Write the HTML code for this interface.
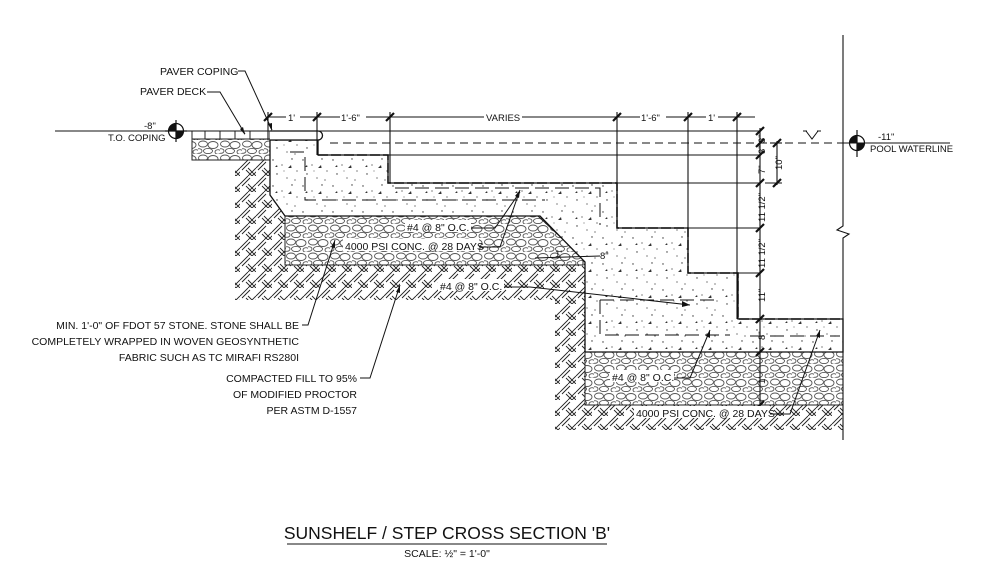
<!DOCTYPE html>
<html><head><meta charset="utf-8"><style>
html,body{margin:0;padding:0;background:#fff;width:986px;height:578px;overflow:hidden}
svg{display:block}
text{font-family:"Liberation Sans",sans-serif;fill:#111}
</style></head><body>
<svg width="986" height="578" viewBox="0 0 986 578" xmlns="http://www.w3.org/2000/svg">
<defs>
<pattern id="earth" width="16" height="16" patternUnits="userSpaceOnUse">
<rect width="16" height="16" fill="#fff"/>
<path d="M0 8 L8 0 M2 10 L10 2 M8 16 L16 8 M10 18 L18 10 M8 8 L16 16 M6 10 L12 16" stroke="#222" stroke-width="0.9" fill="none"/>
</pattern>
<pattern id="stone" width="22" height="14" patternUnits="userSpaceOnUse">
<rect width="22" height="14" fill="#fff"/>
<ellipse cx="5" cy="4" rx="4.5" ry="3" fill="none" stroke="#555" stroke-width="0.9"/>
<ellipse cx="15" cy="5" rx="5" ry="3.5" fill="none" stroke="#555" stroke-width="0.9"/>
<ellipse cx="10" cy="11" rx="4.5" ry="2.6" fill="none" stroke="#555" stroke-width="0.9"/>
<ellipse cx="20" cy="12" rx="3" ry="2.3" fill="none" stroke="#555" stroke-width="0.9"/>
<ellipse cx="1" cy="11" rx="3" ry="2.3" fill="none" stroke="#555" stroke-width="0.9"/>
</pattern>
<pattern id="conc" width="30" height="26" patternUnits="userSpaceOnUse">
<rect width="30" height="26" fill="#fff"/>
<g fill="#333"><circle cx="3" cy="4" r=".7"/><circle cx="12" cy="9" r=".6"/><circle cx="22" cy="3" r=".7"/><circle cx="27" cy="15" r=".6"/><circle cx="7" cy="18" r=".7"/><circle cx="17" cy="22" r=".6"/><circle cx="25" cy="24" r=".6"/><circle cx="14" cy="15" r=".5"/>
<path d="M18 12 l3 -3 l0.6 3 z M5 11 l2 -2 l.5 2 z"/></g>
</pattern>
</defs>

<!-- earth -->
<polygon points="235,160 272,160 272,200 540,216 585,262 585,352 843,352 843,430 555,430 555,300 235,300" fill="url(#earth)"/>
<!-- stone 1 -->
<polygon points="285,216 538,216 583,258 583,265 285,265" fill="url(#stone)" stroke="#222"/>
<!-- stone 2 -->
<rect x="585" y="352" width="258" height="53" fill="url(#stone)" stroke="#222"/>
<!-- paver deck gravel -->
<rect x="192" y="139" width="78" height="21" fill="url(#stone)" stroke="#222"/>
<rect x="192" y="131" width="78" height="8" fill="#fff" stroke="#222"/>
<path d="M205 131v8M220 131v8M235 131v8M250 131v8" stroke="#222"/>
<!-- concrete -->
<polygon points="270,140 318,140 318,155 388,155 388,183 617,183 617,228 688,228 688,273 738,273 738,319 843,319 843,352 585,352 585,262 540,216 285,216 270,195" fill="url(#conc)" stroke="#111" stroke-width="1.3"/>
<path d="M318,155 H388 V183 H617 V228 H688 V273 H738 V319 H843" stroke="#111" stroke-width="1.4" stroke-dasharray="10 3" fill="none"/>
<!-- rebar -->
<g stroke="#111" stroke-width="1" fill="none" stroke-dasharray="14 6">
<path d="M290 152 H305 V200 H545"/><path d="M395 188 H600 V225"/>
<path d="M600 300 V335 H730 M600 300 H720"/><path d="M750 336 H840"/>
</g>
<!-- coping -->
<path d="M270 131 H318 a4.5 4.5 0 0 1 0 9 H270" fill="#fff" stroke="#111" stroke-width="1.3"/>
<!-- reference lines -->
<g stroke="#111" stroke-width="1.1" fill="none">
<line x1="55" y1="131" x2="760" y2="131"/>
<line x1="318" y1="155" x2="760" y2="155"/>
<line x1="388" y1="183" x2="760" y2="183"/>
<line x1="617" y1="228" x2="760" y2="228"/>
<line x1="688" y1="273" x2="760" y2="273"/>
<line x1="738" y1="319" x2="760" y2="319"/>
<line x1="330" y1="143" x2="843" y2="143" stroke-dasharray="8 5"/>
<line x1="843" y1="143" x2="950" y2="143"/>
<line x1="268" y1="117" x2="755" y2="117"/>
<line x1="268" y1="112" x2="268" y2="140"/>
<line x1="317" y1="112" x2="317" y2="155"/>
<line x1="390" y1="112" x2="390" y2="183"/>
<line x1="617" y1="112" x2="617" y2="228"/>
<line x1="688" y1="112" x2="688" y2="273"/>
<line x1="737" y1="112" x2="737" y2="319"/>
<line x1="760" y1="128" x2="760" y2="405"/>
<line x1="777" y1="141" x2="777" y2="185"/>
<line x1="770" y1="143" x2="782" y2="143"/><line x1="765" y1="183" x2="782" y2="183"/>
<path d="M843 35 V226 l-6 4 l12 4 l-6 4 V440" />
</g>
<g stroke="#111" stroke-width="2.2">
<path d="M264 121l8-8M313 121l8-8M386 121l8-8M613 121l8-8M684 121l8-8M733 121l8-8"/>
<path d="M756 135l8-8M756 147l8-8M756 159l8-8M756 187l8-8M756 232l8-8M756 277l8-8M756 323l8-8M756 356l8-8M756 409l8-8M773 147l8-8M773 187l8-8"/>
</g>
<!-- dimension text -->
<g font-size="9.5">
<rect x="286" y="111" width="14" height="11" fill="#fff"/><text x="288" y="121">1'</text>
<rect x="340" y="111" width="26" height="11" fill="#fff"/><text x="341" y="121">1'-6"</text>
<rect x="484" y="111" width="38" height="11" fill="#fff"/><text x="486" y="121">VARIES</text>
<rect x="640" y="111" width="26" height="11" fill="#fff"/><text x="641" y="121">1'-6"</text>
<rect x="706" y="111" width="12" height="11" fill="#fff"/><text x="708" y="121">1'</text>
</g>
<g font-size="9.5">
<text transform="translate(765,143) rotate(-90)">3"</text>
<text transform="translate(765,154) rotate(-90)">3"</text>
<text transform="translate(765,174) rotate(-90)">7"</text>
<text transform="translate(765,222) rotate(-90)">11 1/2"</text>
<text transform="translate(765,268) rotate(-90)">11 1/2"</text>
<text transform="translate(765,302) rotate(-90)">11"</text>
<text transform="translate(765,340) rotate(-90)">8"</text>
<text transform="translate(765,384) rotate(-90)">1'</text>
<text transform="translate(782,170) rotate(-90)">10"</text>
<text x="600" y="259">8"</text><text x="555" y="257">1'</text>
</g>
<!-- waterline symbol -->
<path d="M806 131 l6 8 l6 -8 M803 131 h4 M817 131 h4" stroke="#111" fill="none"/>
<!-- datums -->
<g stroke="#111" fill="none" stroke-width="1.2">
<circle cx="176" cy="131" r="7.5"/><line x1="176" y1="120" x2="176" y2="142"/><line x1="165" y1="131" x2="187" y2="131"/>
<circle cx="857" cy="143" r="7.5"/><line x1="857" y1="130" x2="857" y2="157"/>
</g>
<path d="M176 131 V123.5 A7.5 7.5 0 0 0 168.5 131 Z M176 131 V138.5 A7.5 7.5 0 0 0 183.5 131 Z" fill="#111"/>
<path d="M857 143 V135.5 A7.5 7.5 0 0 0 849.5 143 Z M857 143 V150.5 A7.5 7.5 0 0 0 864.5 143 Z" fill="#111"/>
<g font-size="9.5">
<text x="144" y="129">-8"</text><text x="108" y="141">T.O. COPING</text>
<text x="878" y="140">-11"</text><text x="870" y="152">POOL WATERLINE</text>
</g>
<!-- leaders -->
<g stroke="#111" stroke-width="1" fill="none">
<path d="M238 71 H245 L272 130"/><path d="M207 92 H220 L245 134"/>
<path d="M470 228 H495 L520 192"/><path d="M478 247 H500 L520 190"/>
<path d="M502 287 H530 L690 305"/>
<path d="M672 378 H690 L710 330"/><path d="M770 414 H790 L820 330"/>
<path d="M302 325 H308 L335 240"/><path d="M360 378 H370 L400 285"/>
<path d="M535 258 L600 256"/>
</g>
<g fill="#111">
<path d="M272 131 l-4 -7 l4 -1z"/><path d="M245 135 l-5 -6 l3 -2z"/><path d="M520 190 l-1 8 l-4 -2z"/>
<path d="M690 305 l-8 -4 l0 6z"/><path d="M710 330 l0 8 l-4 -2z"/><path d="M820 330 l0 8 l-4 -2z"/>
<path d="M335 240 l0 8 l-4 -1z"/><path d="M400 285 l0 8 l-4 -1z"/>
</g>
<!-- labels -->
<g font-size="10.5">
<text x="160" y="75">PAVER COPING</text>
<text x="140" y="95">PAVER DECK</text>
<rect x="405" y="220" width="66" height="12" fill="#fff"/><text x="407" y="231">#4 @ 8" O.C.</text>
<rect x="343" y="239" width="136" height="12" fill="#fff"/><text x="345" y="250">4000 PSI CONC. @ 28 DAYS</text>
<rect x="438" y="279" width="66" height="12" fill="#fff"/><text x="440" y="290">#4 @ 8" O.C.</text>
<rect x="610" y="370" width="64" height="12" fill="#fff"/><text x="612" y="381">#4 @ 8" O.C.</text>
<rect x="634" y="406" width="136" height="12" fill="#fff"/><text x="636" y="417">4000 PSI CONC. @ 28 DAYS</text>
<g text-anchor="end">
<text x="299" y="329">MIN. 1'-0" OF FDOT 57 STONE. STONE SHALL BE</text>
<text x="299" y="345">COMPLETELY WRAPPED IN WOVEN GEOSYNTHETIC</text>
<text x="299" y="361">FABRIC SUCH AS TC MIRAFI RS280I</text>
<text x="357" y="382">COMPACTED FILL TO 95%</text>
<text x="357" y="398">OF MODIFIED PROCTOR</text>
<text x="357" y="414">PER ASTM D-1557</text>
</g>
</g>
<text x="447" y="539" font-size="17.5" text-anchor="middle">SUNSHELF / STEP CROSS SECTION 'B'</text>
<line x1="287" y1="544" x2="607" y2="544" stroke="#111"/>
<text x="447" y="557" font-size="10.5" text-anchor="middle">SCALE: ½" = 1'-0"</text>
</svg>
</body></html>
